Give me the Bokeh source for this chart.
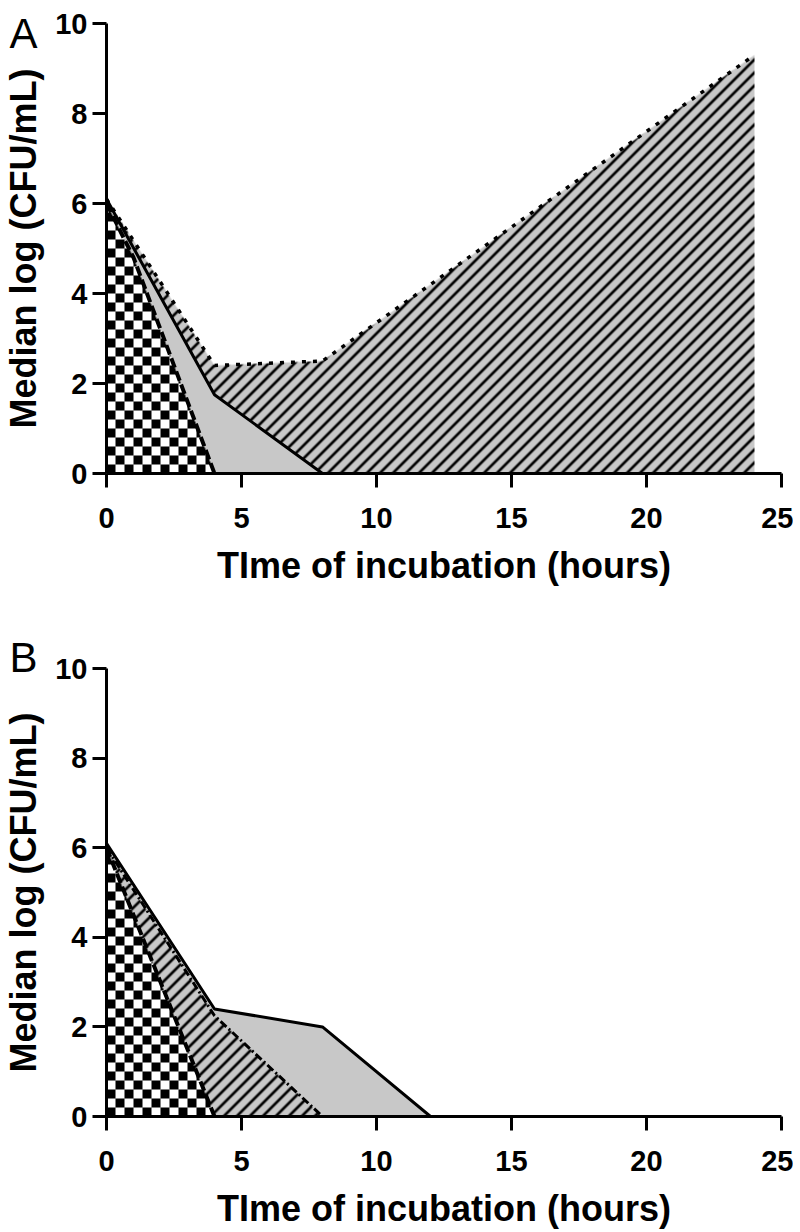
import numpy as np
from bokeh.plotting import figure
from bokeh.models import Range1d, FixedTicker
from bokeh.layouts import column
from bokeh.embed import file_html
from bokeh.resources import INLINE

# ---------------- data ----------------
# Panel A
time_a_dotted = [0, 4, 8, 24]
log_a_dotted = [6.1, 2.4, 2.5, 9.3]
time_a_solid = [0, 4, 8]
log_a_solid = [6.1, 1.75, 0.0]
time_a_dashed = [0, 1, 4]
log_a_dashed = [6.0, 4.8, 0.0]

# Panel B
time_b_solid = [0, 4, 8, 12]
log_b_solid = [6.1, 2.4, 2.0, 0.0]
time_b_dashdot = [0, 4, 8]
log_b_dashdot = [6.0, 2.25, 0.0]
time_b_dashed = [0, 4]
log_b_dashed = [6.0, 0.0]

x_ticks = [0, 5, 10, 15, 20, 25]
y_ticks = [0, 2, 4, 6, 8, 10]
x_label = "TIme of incubation (hours)"
y_label = "Median log (CFU/mL)"
panel_names = ["A", "B"]

X_MAX, Y_MAX = 25, 10
GRAY = (200, 200, 200)
FONT = "Liberation Sans"
FRAME_W = 675


def fill_image(frame_w, frame_h, layers):
    """Rasterise the filled areas (bottom to top) at one pixel per screen pixel."""
    X, Y = np.meshgrid(np.arange(frame_w) + 0.5, np.arange(frame_h) + 0.5)
    xd = X / frame_w * X_MAX
    rgb = np.zeros((frame_h, frame_w, 3))
    alpha = np.zeros((frame_h, frame_w))
    for xs, ys, kind in layers:
        top = np.interp(xd, xs, ys, left=-1.0, right=-1.0) / Y_MAX * frame_h
        cov = np.clip(top - Y + 0.5, 0.0, 1.0)
        if kind == "gray":
            col = np.broadcast_to(np.array(GRAY, float), rgb.shape)
        elif kind == "hatch":
            s, w = 13.0, 2.6
            u = np.mod(X - Y, s)
            d = np.minimum(u, s - u) / np.sqrt(2)
            a = np.clip(w / 2 + 0.5 - d, 0.0, 1.0)[..., None]
            col = np.array(GRAY, float) * (1 - a)
        else:  # checker
            c = 9
            on = ((np.floor(X / c) + np.floor(Y / c)) % 2 == 0)[..., None]
            col = np.where(on, 0.0, 255.0) * np.ones(3)
        new_a = cov + alpha * (1 - cov)
        safe = np.where(new_a > 0, new_a, 1)
        rgb = (col * cov[..., None] + rgb * (alpha * (1 - cov))[..., None]) / safe[..., None]
        alpha = new_a
    img = np.zeros((frame_h, frame_w, 4), dtype=np.uint8)
    img[..., :3] = np.clip(np.round(rgb), 0, 255).astype(np.uint8)
    img[..., 3] = np.clip(np.round(alpha * 255), 0, 255).astype(np.uint8)
    return img.view(dtype=np.uint32).reshape(frame_h, frame_w)


def make_fig(frame_h, top, bottom, name, title_standoff):
    p = figure(frame_width=FRAME_W, frame_height=frame_h,
               x_range=Range1d(0, X_MAX), y_range=Range1d(0, Y_MAX),
               output_backend="svg", toolbar_location=None,
               min_border_left=97, min_border_right=12,
               min_border_top=top, min_border_bottom=bottom)
    p.grid.visible = False
    p.outline_line_color = None
    p.background_fill_color = "white"
    p.border_fill_color = "white"
    # panel letter
    p.title.text = name
    p.title.text_font = "Liberation Sans"
    p.title.text_font_size = "42px"
    p.title.text_font_style = "normal"
    p.title.text_color = "black"
    p.title.align = "left"
    p.title.vertical_align = "bottom"
    p.title.offset = -97
    p.title.standoff = title_standoff
    p.xaxis.ticker = FixedTicker(ticks=x_ticks)
    p.yaxis.ticker = FixedTicker(ticks=y_ticks)
    for ax in (p.xaxis, p.yaxis):
        ax.axis_line_width = 3
        ax.axis_line_color = "black"
        ax.major_tick_line_width = 3
        ax.major_tick_line_color = "black"
        ax.major_tick_out = 14
        ax.major_tick_in = 0
        ax.minor_tick_line_color = None
        ax.major_label_text_font = FONT
        ax.major_label_text_font_style = "bold"
        ax.major_label_text_font_size = "29px"
        ax.major_label_text_color = "black"
        ax.axis_label_text_font = FONT
        ax.axis_label_text_font_style = "bold"
        ax.axis_label_text_font_size = "36px"
        ax.axis_label_text_color = "black"
    p.xaxis.axis_label = x_label
    p.yaxis.axis_label = y_label
    p.xaxis.major_label_standoff = 20
    p.xaxis.axis_label_standoff = 14
    p.yaxis.major_label_standoff = 5
    p.yaxis.axis_label_standoff = 8
    return p


# ---------------- panel A ----------------
FH_A = 450
pa = make_fig(FH_A, 23, 119, panel_names[0], -66)
img_a = fill_image(FRAME_W, FH_A, [
    (time_a_dotted, log_a_dotted, "hatch"),
    (time_a_solid, log_a_solid, "gray"),
    (time_a_dashed, log_a_dashed, "checker"),
])
pa.image_rgba(image=[img_a], x=0, y=0, dw=X_MAX, dh=Y_MAX)
pa.line(time_a_dotted, log_a_dotted, line_color="black", line_width=3.5, line_dash="4 7")
pa.line(time_a_solid, log_a_solid, line_color="black", line_width=3)
pa.line(time_a_dashed, log_a_dashed, line_color="black", line_width=4, line_dash="10 4")

# ---------------- panel B ----------------
FH_B = 448
pb = make_fig(FH_B, 76, 100, panel_names[1], -24)
img_b = fill_image(FRAME_W, FH_B, [
    (time_b_solid, log_b_solid, "gray"),
    (time_b_dashdot, log_b_dashdot, "hatch"),
    (time_b_dashed, log_b_dashed, "checker"),
])
pb.image_rgba(image=[img_b], x=0, y=0, dw=X_MAX, dh=Y_MAX)
pb.line(time_b_solid, log_b_solid, line_color="black", line_width=3)
pb.line(time_b_dashdot, log_b_dashdot, line_color="black", line_width=3, line_dash="8 3 2 3")
pb.line(time_b_dashed, log_b_dashed, line_color="black", line_width=4, line_dash="10 4")

layout = column(pa, pb, spacing=0)
open("out.html", "w").write(file_html(layout, INLINE))
